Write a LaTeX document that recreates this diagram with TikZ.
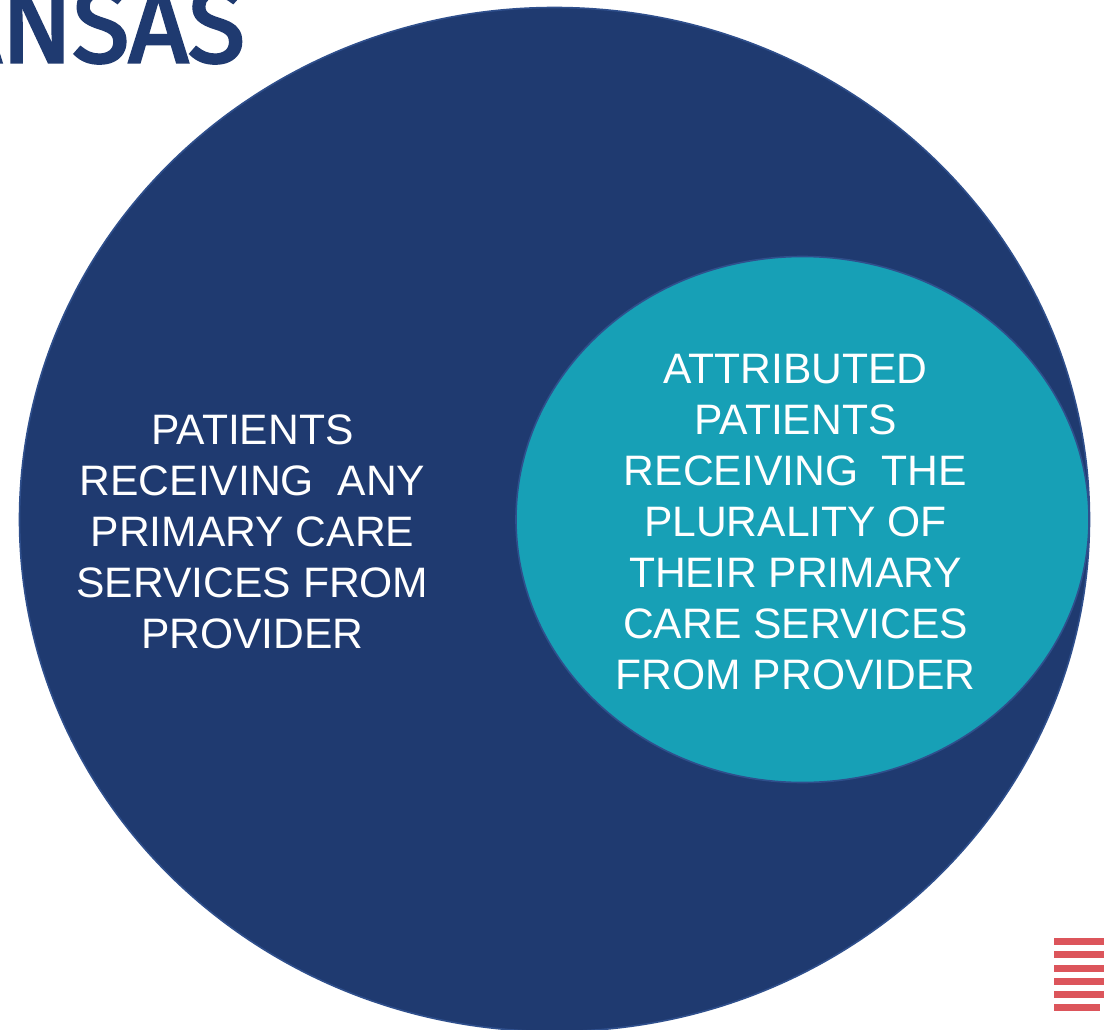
\documentclass[tikz,border=0pt]{standalone}
\usepackage{fontspec}
\setmainfont{Liberation Sans}
\newfontfamily\headfont[FakeBold=3]{Fira Sans}
\usetikzlibrary{shapes.geometric}
\definecolor{navy}{HTML}{1F3A70}
\definecolor{rimblue}{HTML}{2F4F8C}
\definecolor{teal}{HTML}{17A0B6}
\definecolor{stripe}{HTML}{DC555B}
\tikzset{x=1pt,y=-1pt,
  blob/.style={draw=rimblue,line width=1.6pt,shape=ellipse,inner sep=0pt},
  label/.style={text=white,align=center,font=\fontsize{42.6}{51}\selectfont,inner sep=0pt},
  stripebar/.style={fill=stripe,draw=none}}
\begin{document}
\begin{tikzpicture}
\useasboundingbox (0,0) rectangle (1104,1030);
\fill[white] (0,0) rectangle (1104,1030);
\begin{scope}
\clip (0,0) rectangle (1104,1030);
\node[blob,fill=navy,minimum width=1070,minimum height=1024] (outer) at (554.5,519.5) {};
\node[blob,fill=teal,minimum width=573,minimum height=526] (inner) at (802.5,519.5) {};
\node[anchor=base east,text=navy,font=\headfont\fontsize{106}{106}\selectfont,xscale=0.98,inner sep=0pt] (head) at (245,62) {ANSAS};
\foreach \y/\e in {938/1104,951/1104,964.5/1104,977.5/1104,990.5/1104,1004/1100}{
  \fill[stripebar] (1054,\y) rectangle (\e,\y+7);
}
\end{scope}
\node[label] (a) at (252.5,531.7) {PATIENTS\\RECEIVING\ \ ANY\\PRIMARY CARE\\SERVICES FROM\\PROVIDER};
\node[label] (b) at (795.5,522) {ATTRIBUTED\\PATIENTS\\RECEIVING\ \ THE\\PLURALITY OF\\THEIR PRIMARY\\CARE SERVICES\\FROM PROVIDER};
\end{tikzpicture}
\end{document}
